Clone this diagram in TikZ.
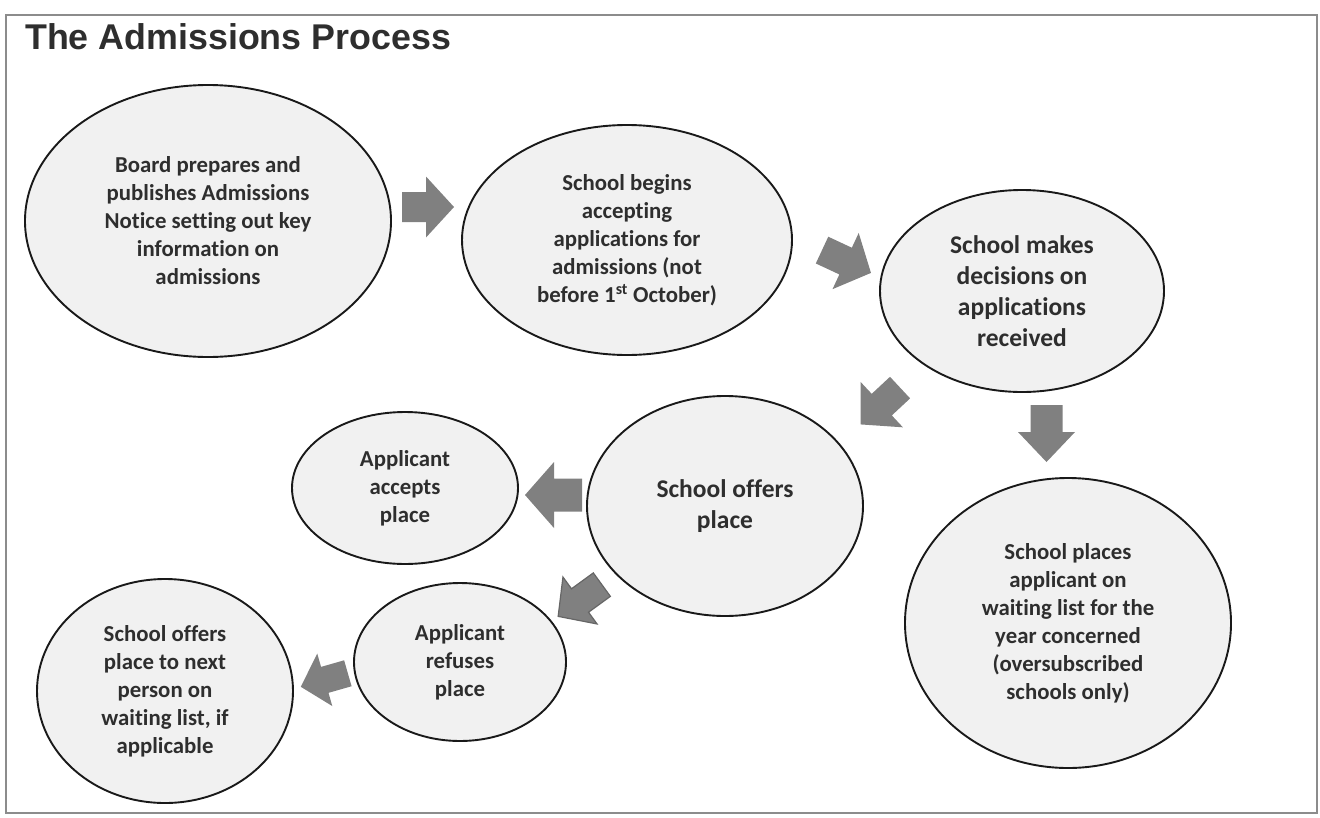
\documentclass[tikz,border=0pt]{standalone}
\usepackage{fontspec}
\setmainfont{Carlito}[Ligatures={NoCommon}]
\newfontfamily\titlefont{Liberation Sans}
\usetikzlibrary{shapes.geometric}
\definecolor{ellfill}{HTML}{F1F1F1}
\definecolor{txtgray}{HTML}{2E2E2E}
\definecolor{arrgray}{HTML}{808080}
\definecolor{framegray}{HTML}{8C8C8C}
\tikzset{
  stage/.style={ellipse, draw=black!90, line width=1.9pt, fill=ellfill, inner sep=0pt,
    align=center, text=txtgray, font=\bfseries\fontsize{22.8}{28}\selectfont},
  bigstage/.style={stage, font=\bfseries\fontsize{25.5}{31}\selectfont},
  blockarrow/.style={fill=arrgray},
  outlinedarrow/.style={fill=arrgray, draw=black!60, line width=1.2pt, line join=miter},
  frame/.style={draw=framegray, line width=1.1pt},
  titletext/.style={anchor=base west, inner sep=0pt, text=txtgray, font=\titlefont\bfseries\fontsize{35.8}{40}\selectfont}
}
% #1 style, #2 x, #3 y, #4 angle, #5 length, #6 shaft width, #7 head width, #8 head length
\newcommand\blockarr[8]{%
  \path[#1, shift={(#2,#3)}, rotate=#4]
    ({-#5/2},{-#6/2}) -- ({#5/2-#8},{-#6/2}) -- ({#5/2-#8},{-#7/2}) -- ({#5/2},0)
    -- ({#5/2-#8},{#7/2}) -- ({#5/2-#8},{#6/2}) -- ({-#5/2},{#6/2}) -- cycle;}
\begin{document}
\begin{tikzpicture}[x=1pt, y=-1pt]
\useasboundingbox (0,0) rectangle (1320,817);
\draw[frame] (6,15) rectangle (1317,813);
\node[titletext] (title) at (25,49) {The Admissions Process};

\node[stage, minimum width=366, minimum height=272] (board) at (208,221)
  {Board prepares and\\publishes Admissions\\Notice setting out key\\information on\\admissions};
\node[stage, minimum width=330, minimum height=230] (begins) at (627,240)
  {School begins\\accepting\\applications for\\admissions (not\\before 1\textsuperscript{st} October)};
\node[bigstage, minimum width=284, minimum height=202] (decide) at (1022,291)
  {School makes\\decisions on\\applications\\received};
\node[bigstage, minimum width=276, minimum height=220] (offers) at (725,506)
  {School offers\\place};
\node[stage, minimum width=226, minimum height=152] (accepts) at (405,488)
  {Applicant\\accepts\\place};
\node[stage, minimum width=326, minimum height=290] (waiting) at (1068,623)
  {School places\\applicant on\\waiting list for the\\year concerned\\(oversubscribed\\schools only)};
\node[stage, minimum width=212, minimum height=158] (refuses) at (460,662)
  {Applicant\\refuses\\place};
\node[stage, minimum width=256, minimum height=224] (next) at (165,691)
  {School offers\\place to next\\person on\\waiting list, if\\applicable};

\blockarr{blockarrow}{428}{207}{0}{52}{30}{61}{28}
\blockarr{blockarrow}{846.5}{261.5}{-25}{54}{29.5}{62}{28}
\blockarr{blockarrow}{880.3}{406}{-137}{54}{29.5}{62}{29}
\blockarr{blockarrow}{1046.5}{433.5}{-90}{57}{32}{57}{30}
\blockarr{blockarrow}{553.5}{495}{180}{57}{33}{66}{29}
\blockarr{outlinedarrow}{580}{600.5}{-144}{54}{29}{58}{27}
\blockarr{blockarrow}{324.3}{680}{-164}{49}{27}{54.5}{25}
\end{tikzpicture}
\end{document}
